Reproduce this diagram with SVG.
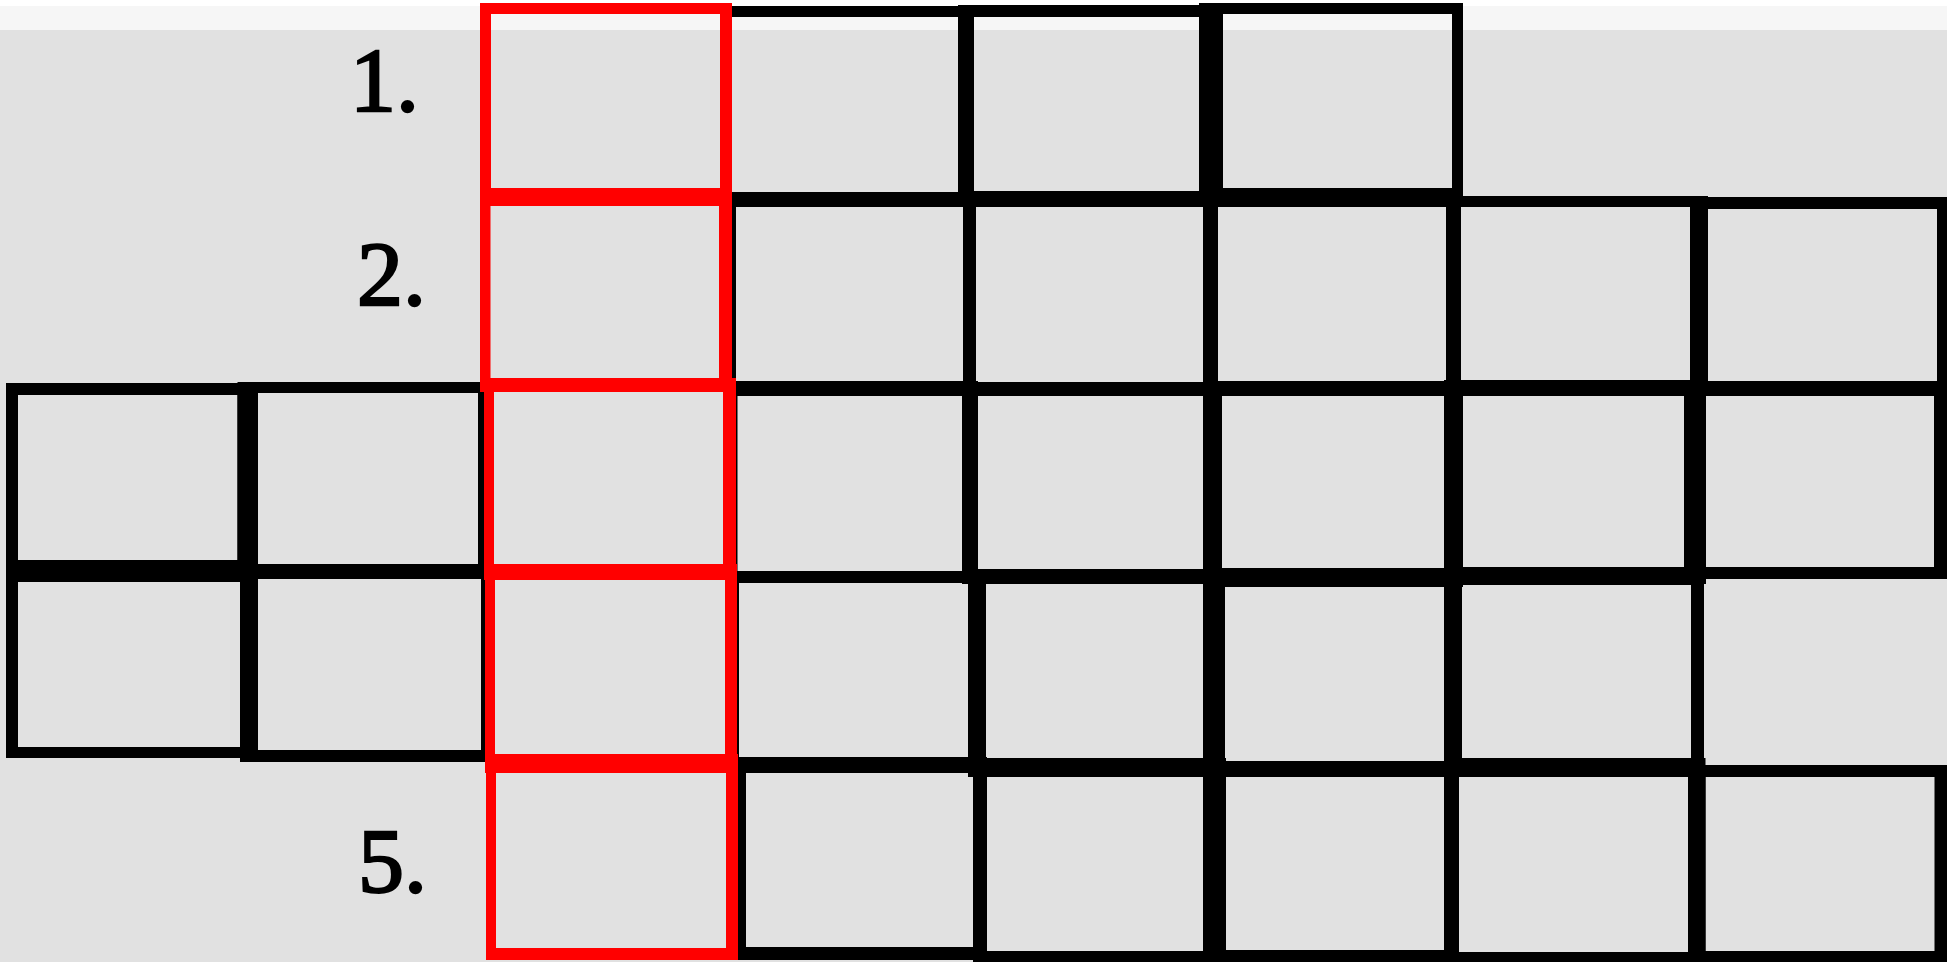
<svg xmlns="http://www.w3.org/2000/svg" width="1947" height="962" viewBox="0 0 1947 962">
<style>
.box{fill:#000;fill-rule:evenodd}
.red{fill:#ff0000;fill-rule:evenodd}
.lbl{fill:#000;stroke:#000;stroke-width:2.4px}
</style>
<rect x="0" y="0" width="1947" height="962" fill="#ffffff"/>
<rect x="0" y="6" width="1947" height="24" fill="#f6f6f6"/>
<rect x="0" y="30" width="1947" height="932" fill="#e1e1e1"/>

<g id="labels" font-family="Liberation Serif, Times New Roman, serif" font-size="92">
<text class="lbl" x="350" y="111">1.</text>
<text class="lbl" x="357" y="305">2.</text>
<text class="lbl" x="358" y="892">5.</text>
</g>

<g id="row1">
<g id="c4r1"><path class="box" d="M726 6H974V207H726Z M731.5 17H958V192H731.5Z"/></g>
<g id="c5r1"><path class="box" d="M958 5H1223V207H958Z M974 17H1199V191H974Z"/></g>
<g id="c6r1"><path class="box" d="M1199 3H1463V207H1199Z M1223 14H1452V188H1223Z"/></g>
</g>

<g id="row2">
<g id="c4r2"><path class="box" d="M726 192H976V396H726Z M736 207H963V381H736Z"/></g>
<g id="c5r2"><path class="box" d="M963 191H1218V396H963Z M976 207H1203V382H976Z"/></g>
<g id="c6r2"><path class="box" d="M1203 188H1461V396H1203Z M1218 207H1446V381H1218Z"/></g>
<g id="c7r2"><path class="box" d="M1446 196H1708V394H1446Z M1461 207H1690V380H1461Z"/></g>
<g id="c8r2"><path class="box" d="M1690 197H1947V396H1690Z M1708 209H1937V381H1708Z"/></g>
</g>

<g id="row3">
<g id="c1r3"><path class="box" d="M6 383H258V582H6Z M18 395H237.5V560H18Z"/></g>
<g id="c2r3"><path class="box" d="M237.5 382H494V579H237.5Z M258 393H478V564H258Z"/></g>
<g id="c4r3"><path class="box" d="M726 381H978V583H726Z M737.5 396H962V571H737.5Z"/></g>
<g id="c5r3"><path class="box" d="M962 382H1222V584H962Z M978 395H1203V569H978Z"/></g>
<g id="c6r3"><path class="box" d="M1203 381H1463V587H1203Z M1222 395H1444V568H1222Z"/></g>
<g id="c7r3"><path class="box" d="M1444 380H1706V584H1444Z M1463 396H1684V567H1463Z"/></g>
<g id="c8r3"><path class="box" d="M1684 381H1947V579H1684Z M1706 396H1934V567H1706Z"/></g>
</g>

<g id="row4">
<g id="c1r4"><path class="box" d="M6 560H258V758H6Z M18 582H240V747H18Z"/></g>
<g id="c2r4"><path class="box" d="M240 564H495V762H240Z M258 579H481V750H258Z"/></g>
<g id="c4r4"><path class="box" d="M726 571H986V773H726Z M739 583H968V757H739Z"/></g>
<g id="c5r4"><path class="box" d="M968 569H1225V777H968Z M986 584H1203V758H986Z"/></g>
<g id="c6r4"><path class="box" d="M1203 568H1462V777H1203Z M1225 587H1444V761H1225Z"/></g>
<g id="c7r4"><path class="box" d="M1444 567H1704V777H1444Z M1462 585H1691V758H1462Z"/></g>
</g>

<g id="row5">
<g id="c4r5"><path class="box" d="M737 757H987V960H737Z M746 773H973V947H746Z"/></g>
<g id="c5r5"><path class="box" d="M973 758H1226V962H973Z M987 777H1203V951H987Z"/></g>
<g id="c6r5"><path class="box" d="M1203 761H1459V962H1203Z M1226 777H1444V950H1226Z"/></g>
<g id="c7r5"><path class="box" d="M1444 758H1705.5V962H1444Z M1459 777H1688V952H1459Z"/></g>
<g id="c8r5"><path class="box" d="M1688 765H1947V962H1688Z M1705.5 777H1934.5V951H1705.5Z"/></g>
</g>

<g id="redColumn">
<g id="r1"><path class="red" d="M480 3H732V206H480Z M491 14H720V188H491Z"/></g>
<g id="r2"><path class="red" d="M480 188H732V392H480Z M490.5 206H719V378H490.5Z"/></g>
<g id="r3"><path class="red" d="M484 378H736V580H484Z M494 392H723V564H494Z"/></g>
<g id="r4"><path class="red" d="M485 564H737V773H485Z M495 580H725V754H495Z"/></g>
<g id="r5"><path class="red" d="M486 754H738V960H486Z M496 773H726V948H496Z"/></g>
</g>
</svg>
